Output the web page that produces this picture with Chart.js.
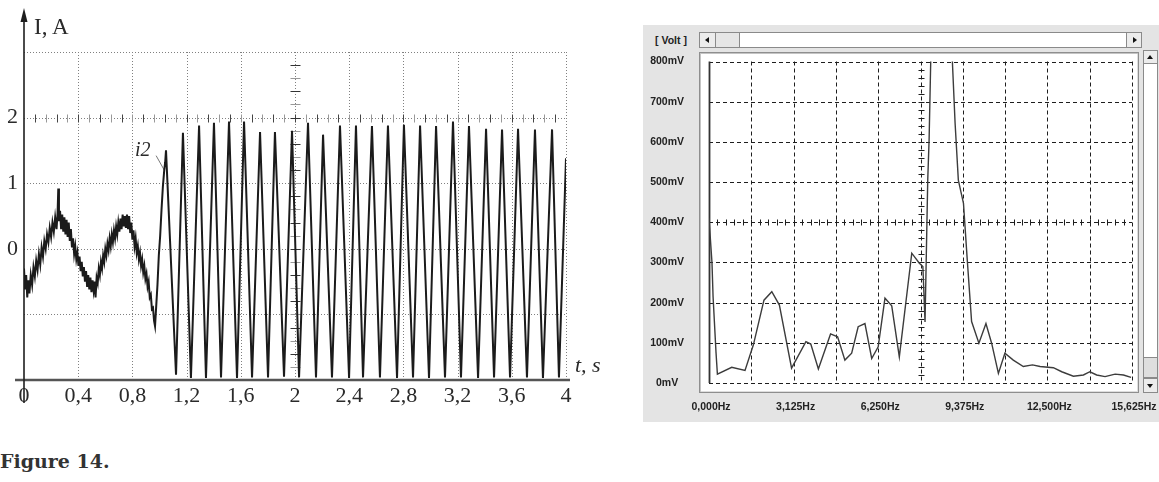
<!DOCTYPE html>
<html>
<head>
<meta charset="utf-8">
<script src="https://cdn.jsdelivr.net/npm/chart.js@4.4.1/dist/chart.umd.min.js"></script>
<style>
body { margin: 0; background: #fff; width: 1159px; height: 482px; position: relative; overflow: hidden; }
.abs { position: absolute; }
.serif { font-family: 'Liberation Serif', 'Times New Roman', serif; color: #2a2a2a; line-height: 1; white-space: nowrap; }
.ui { font-family: 'Liberation Sans', Arial, sans-serif; font-weight: bold; font-size: 10.5px; color: #222; line-height: 1; }
#panel { left: 643px; top: 25px; width: 516px; height: 397px; background: #e4e4e4; }
#frame { left: 699px; top: 52px; width: 438px; height: 339px; background: #fff; border: 1px solid #8e8e8e; box-shadow: inset 1px 1px 0 #c4c4c4, inset -1px -1px 0 #dedede; }
.bar { background: #fff; border: 1px solid #8a8a8a; box-sizing: border-box; }
.btn { background: #ececec; border: 1px solid #8a8a8a; box-sizing: border-box; }
.tri { position: absolute; width: 0; height: 0; border-style: solid; }
#caption { left: 0; top: 450px; font-family: 'DejaVu Serif', serif; font-weight: bold; font-size: 19px; color: #333; }
</style>
</head>
<body>
<div id="panel" class="abs"></div>
<span class="abs ui" style="left:655px;top:35px">[ Volt ]</span>
<div class="abs bar" style="left:699px;top:32px;width:443px;height:16px"></div>
<div class="abs btn" style="left:699px;top:32px;width:17px;height:16px"><div class="tri" style="left:5px;top:4px;border-width:3px 4px 3px 0;border-color:transparent #111 transparent transparent"></div></div>
<div class="abs btn" style="left:715px;top:32px;width:25px;height:16px;background:#e6e6e6"></div>
<div class="abs btn" style="left:1126px;top:32px;width:16px;height:16px"><div class="tri" style="left:6px;top:4px;border-width:3px 0 3px 4px;border-color:transparent transparent transparent #111"></div></div>
<div id="frame" class="abs"></div>
<div class="abs bar" style="left:1143px;top:50px;width:15px;height:343px"></div>
<div class="abs btn" style="left:1143px;top:50px;width:15px;height:14px"><div class="tri" style="left:3px;top:4px;border-width:0 3.5px 4px 3.5px;border-color:transparent transparent #111 transparent"></div></div>
<div class="abs btn" style="left:1143px;top:357px;width:15px;height:21px;background:#dedede"></div>
<div class="abs btn" style="left:1143px;top:378px;width:15px;height:15px"><div class="tri" style="left:3px;top:5px;border-width:4px 3.5px 0 3.5px;border-color:#111 transparent transparent transparent"></div></div>

<canvas id="scope" class="abs" width="610" height="420" style="left:0;top:0"></canvas>
<canvas id="spectrum" class="abs" width="515" height="397" style="left:644px;top:25px"></canvas>

<span class="abs serif" style="left:34px;top:15px;font-size:23px">I, A</span>
<span class="abs serif" style="left:575px;top:354px;font-size:22px;font-style:italic">t, s</span>
<span class="abs serif" style="left:135px;top:139px;font-size:20px;font-style:italic">i2</span>
<span id="caption" class="abs">Figure 14.</span>

<script>
// left plot: current i2 over time
const timeTicks = [0, 0.4, 0.8, 1.2, 1.6, 2, 2.4, 2.8, 3.2, 3.6, 4];
const timeLabels = ['0', '0,4', '0,8', '1,2', '1,6', '2', '2,4', '2,8', '3,2', '3,6', '4'];
const currentTicks = [0, 1, 2];
const currentLabels = ['0', '1', '2'];

const timeS = [
    0.000, 0.008, 0.016, 0.024, 0.032, 0.040, 0.050, 0.060, 0.070, 0.080,
    0.090, 0.100, 0.110, 0.120, 0.130, 0.140, 0.150, 0.160, 0.170, 0.180,
    0.190, 0.200, 0.210, 0.220, 0.230, 0.240, 0.248, 0.253, 0.258, 0.266,
    0.274, 0.282, 0.290, 0.298, 0.306, 0.314, 0.322, 0.330, 0.338, 0.346,
    0.354, 0.362, 0.370, 0.378, 0.386, 0.394, 0.402, 0.410, 0.418, 0.426,
    0.434, 0.442, 0.450, 0.458, 0.466, 0.474, 0.482, 0.490, 0.498, 0.506,
    0.514, 0.522, 0.528, 0.536, 0.544, 0.552, 0.560, 0.568, 0.576, 0.584,
    0.592, 0.600, 0.608, 0.616, 0.624, 0.632, 0.640, 0.648, 0.656, 0.664,
    0.672, 0.680, 0.688, 0.696, 0.704, 0.712, 0.720, 0.728, 0.736, 0.744,
    0.752, 0.760, 0.768, 0.776, 0.784, 0.792, 0.800, 0.808, 0.816, 0.824,
    0.832, 0.840, 0.848, 0.856, 0.864, 0.872, 0.880, 0.888, 0.896, 0.904,
    0.912, 0.920, 0.928, 0.936, 0.944, 0.952, 0.960, 0.967, 0.975, 0.985,
    0.995, 1.005, 1.015, 1.025, 1.035, 1.042,
    1.048, 1.122, 1.173, 1.232, 1.292, 1.343, 1.402, 1.454, 1.513, 1.572,
    1.624, 1.683, 1.742, 1.801, 1.852, 1.919, 1.978, 2.030, 2.096, 2.155,
    2.207, 2.273, 2.332, 2.399, 2.450, 2.502, 2.568, 2.627, 2.686, 2.753,
    2.804, 2.871, 2.923, 2.989, 3.041, 3.107, 3.166, 3.225, 3.284, 3.351,
    3.410, 3.469, 3.528, 3.587, 3.646, 3.712, 3.771, 3.830, 3.897, 3.948,
    4.000
];
const currentA = [
    -0.30, -0.62, -0.40, -0.74, -0.48, -0.68, -0.40, -0.55, -0.28, -0.42,
    -0.18, -0.32, -0.08, -0.24, 0.02, -0.12, 0.12, 0.00, 0.22, 0.10,
    0.32, 0.18, 0.40, 0.26, 0.48, 0.30, 0.55, 0.92, 0.42, 0.58,
    0.30, 0.52, 0.26, 0.48, 0.22, 0.44, 0.18, 0.40, 0.12, 0.30,
    0.02, 0.16, -0.08, 0.04, -0.16, -0.06, -0.26, -0.12, -0.34, -0.20,
    -0.42, -0.28, -0.50, -0.34, -0.58, -0.40, -0.62, -0.44, -0.66, -0.48,
    -0.64, -0.50, -0.74, -0.44, -0.52, -0.30, -0.40, -0.20, -0.30, -0.10,
    -0.20, 0.00, -0.10, 0.08, -0.02, 0.16, 0.04, 0.22, 0.10, 0.28,
    0.16, 0.34, 0.22, 0.40, 0.26, 0.46, 0.30, 0.52, 0.34, 0.50,
    0.32, 0.52, 0.30, 0.50, 0.24, 0.40, 0.14, 0.28, 0.04, 0.16,
    -0.06, 0.04, -0.16, -0.06, -0.26, -0.16, -0.36, -0.26, -0.46, -0.38,
    -0.58, -0.50, -0.74, -0.70, -0.92, -0.90, -1.10, -1.18, -0.90, -0.55,
    -0.10, 0.20, 0.60, 0.95, 1.20, 1.32,
    1.50, -1.92, 1.77, -1.97, 1.88, -1.97, 1.92, -1.96, 1.94, -1.97,
    1.94, -1.96, 1.78, -1.96, 1.78, -1.95, 1.80, -1.96, 1.92, -1.96,
    1.74, -1.96, 1.88, -1.97, 1.88, -1.96, 1.87, -1.96, 1.88, -1.97,
    1.89, -1.96, 1.88, -1.97, 1.87, -1.96, 1.94, -1.96, 1.87, -1.97,
    1.83, -1.96, 1.82, -1.96, 1.83, -1.96, 1.82, -1.97, 1.82, -1.96,
    1.38
];

// right plot: amplitude spectrum
const freqTicks = [0, 3.125, 6.25, 9.375, 12.5, 15.625];
const freqLabels = ['0,000Hz', '3,125Hz', '6,250Hz', '9,375Hz', '12,500Hz', '15,625Hz'];
const voltTicks = [0, 100, 200, 300, 400, 500, 600, 700, 800];
const voltLabels = ['0mV', '100mV', '200mV', '300mV', '400mV', '500mV', '600mV', '700mV', '800mV'];

const freqHz = [
    0, 0.11, 0.15, 0.26, 0.31, 0.84, 1.33, 1.64, 2.03, 2.32,
    2.60, 3.05, 3.58, 3.76, 4.04, 4.49, 4.75, 5.02, 5.27, 5.51,
    5.76, 6.01, 6.25, 6.50, 6.75, 7.03, 7.49, 7.77, 7.90, 7.98,
    8.08, 8.13, 8.19, 8.50, 8.99, 9.09, 9.21, 9.40, 9.54, 9.70,
    9.97, 10.23, 10.44, 10.69, 10.93, 11.24, 11.61, 11.95, 12.23, 12.72,
    13.03, 13.46, 13.83, 14.07, 14.32, 14.63, 15.00, 15.31, 15.59
];
const ampMv = [
    410, 300, 215, 75, 22, 39, 31, 95, 206, 227,
    194, 37, 103, 97, 35, 122, 115, 57, 74, 140,
    148, 61, 90, 211, 192, 65, 323, 298, 290, 152,
    505, 605, 800, 1100, 800, 647, 505, 447, 306, 153,
    99, 148, 99, 24, 74, 57, 41, 45, 41, 38,
    28, 17, 20, 28, 20, 16, 22, 20, 14
];

function line(ctx, x1, y1, x2, y2) {
    ctx.beginPath();
    ctx.moveTo(x1, y1);
    ctx.lineTo(x2, y2);
    ctx.stroke();
}

const scopeGrid = {
    id: 'scopeGrid',
    beforeDatasetsDraw(chart) {
        const {ctx, scales: {x, y}} = chart;
        const left = x.getPixelForValue(0), right = x.getPixelForValue(4);
        const top = y.getPixelForValue(3), bottom = y.getPixelForValue(-2);
        ctx.save();
        ctx.lineWidth = 1;
        ctx.strokeStyle = '#808080';
        ctx.setLineDash([1, 2]);
        [3, 2, 1, 0, -1].forEach(v => {
            const py = Math.round(y.getPixelForValue(v)) + 0.5;
            line(ctx, left, py, right, py);
        });
        timeTicks.slice(1).forEach(t => {
            const px = Math.round(x.getPixelForValue(t)) + 0.5;
            line(ctx, px, top, px, bottom);
        });
        ctx.setLineDash([]);
        // small ticks along the 2 A line
        const y2 = Math.round(y.getPixelForValue(2)) + 0.5;
        for (let i = 1; i < 50; i++) {
            const px = Math.round(x.getPixelForValue(i * 0.08)) + 0.5;
            ctx.strokeStyle = i % 2 ? '#444' : '#999';
            line(ctx, px, y2 - 4, px, y2 + 4);
        }
        // small ticks along the t = 2 s line
        const xc = Math.round(x.getPixelForValue(2)) + 0.5;
        for (let i = -9; i <= 14; i++) {
            const py = Math.round(y.getPixelForValue(i * 0.2)) + 0.5;
            ctx.strokeStyle = i % 2 ? '#999' : '#333';
            line(ctx, xc - 5, py, xc + 5, py);
        }
        // axes
        const x0 = x.getPixelForValue(0);
        ctx.strokeStyle = '#555';
        ctx.lineWidth = 2.5;
        line(ctx, x0 - 9, bottom, right + 4, bottom);
        ctx.strokeStyle = '#1e1e1e';
        ctx.lineWidth = 1.6;
        line(ctx, x0, 18, x0, bottom + 23);
        ctx.fillStyle = '#1e1e1e';
        ctx.beginPath();
        ctx.moveTo(x0, 8);
        ctx.lineTo(x0 - 3.5, 22);
        ctx.lineTo(x0 + 3.5, 22);
        ctx.closePath();
        ctx.fill();
        // leader line for the i2 label
        ctx.strokeStyle = '#777';
        ctx.lineWidth = 1;
        line(ctx, x.getPixelForValue(0.975), y.getPixelForValue(1.42), x.getPixelForValue(1.035), y.getPixelForValue(1.2));
        ctx.restore();
    }
};

new Chart(document.getElementById('scope'), {
    type: 'line',
    data: {
        datasets: [{
            data: timeS.map((t, i) => ({x: t, y: currentA[i]})),
            borderColor: '#1b1b1b',
            borderWidth: 2,
            pointRadius: 0,
            tension: 0
        }]
    },
    options: {
        responsive: false,
        animation: false,
        events: [],
        layout: {padding: {top: 52, right: 44, left: 0, bottom: 0}},
        plugins: {legend: {display: false}, tooltip: {enabled: false}},
        scales: {
            x: {
                type: 'linear', min: 0, max: 4,
                afterFit: s => { s.height = 40; s.paddingLeft = 0; s.paddingRight = 0; },
                afterBuildTicks: s => { s.ticks = timeTicks.map(v => ({value: v})); },
                grid: {display: false, drawTicks: false},
                border: {display: false},
                ticks: {
                    callback: (v, i) => timeLabels[i],
                    autoSkip: false, maxRotation: 0, padding: 3,
                    color: '#2a2a2a',
                    font: {family: "'Liberation Serif', serif", size: 22}
                }
            },
            y: {
                type: 'linear', min: -2, max: 3,
                afterFit: s => { s.width = 24; },
                afterBuildTicks: s => { s.ticks = currentTicks.map(v => ({value: v})); },
                grid: {display: false, drawTicks: false},
                border: {display: false},
                ticks: {
                    callback: (v, i) => currentLabels[i],
                    padding: 6,
                    color: '#2a2a2a',
                    font: {family: "'Liberation Serif', serif", size: 22}
                }
            }
        }
    },
    plugins: [scopeGrid]
});

const screenGrid = {
    id: 'screenGrid',
    beforeDatasetsDraw(chart) {
        const {ctx, chartArea: a, scales: {x, y}} = chart;
        const div = 15.625 / 10;
        ctx.save();
        ctx.lineWidth = 1;
        ctx.strokeStyle = '#1e1e1e';
        ctx.setLineDash([4, 3]);
        for (let i = 1; i <= 10; i++) {
            const px = Math.round(x.getPixelForValue(i * div)) + 0.5;
            line(ctx, px, a.top, px, a.bottom);
        }
        voltTicks.forEach(v => {
            const py = Math.round(y.getPixelForValue(v)) + 0.5;
            line(ctx, a.left, py, a.right, py);
        });
        ctx.setLineDash([]);
        // centre cross with fine ticks
        const yc = Math.round(y.getPixelForValue(400)) + 0.5;
        for (let i = 1; i < 50; i++) {
            const px = Math.round(x.getPixelForValue(i * div / 5)) + 0.5;
            line(ctx, px, yc - 3, px, yc + 3);
        }
        const xc = Math.round(x.getPixelForValue(5 * div)) + 0.5;
        for (let i = 1; i < 40; i++) {
            const py = Math.round(y.getPixelForValue(i * 20)) + 0.5;
            line(ctx, xc - 3, py, xc + 3, py);
        }
        ctx.lineWidth = 1.8;
        ctx.strokeStyle = '#333';
        line(ctx, a.left + 0.5, a.top, a.left + 0.5, a.bottom);
        ctx.restore();
    }
};

new Chart(document.getElementById('spectrum'), {
    type: 'line',
    data: {
        datasets: [{
            data: freqHz.map((f, i) => ({x: f, y: ampMv[i]})),
            borderColor: '#3c3c3c',
            borderWidth: 1.4,
            pointRadius: 0,
            tension: 0
        }]
    },
    options: {
        responsive: false,
        animation: false,
        events: [],
        layout: {padding: {top: 36.5, right: 27, left: 0, bottom: 0}},
        plugins: {legend: {display: false}, tooltip: {enabled: false}},
        scales: {
            x: {
                type: 'linear', min: 0, max: 15.625,
                afterFit: s => { s.height = 39; s.paddingLeft = 0; s.paddingRight = 0; },
                afterBuildTicks: s => { s.ticks = freqTicks.map(v => ({value: v})); },
                grid: {display: false, drawTicks: false},
                border: {display: false},
                ticks: {
                    callback: (v, i) => freqLabels[i],
                    autoSkip: false, maxRotation: 0, padding: 18, labelOffset: 2,
                    color: '#222',
                    font: {family: "'Liberation Sans', Arial, sans-serif", size: 10.5, weight: 'bold'}
                }
            },
            y: {
                type: 'linear', min: 0, max: 800,
                afterFit: s => { s.width = 65; },
                afterBuildTicks: s => { s.ticks = voltTicks.map(v => ({value: v})); },
                grid: {display: false, drawTicks: false},
                border: {display: false},
                ticks: {
                    callback: (v, i) => voltLabels[i],
                    crossAlign: 'center', padding: 25,
                    color: '#222',
                    font: {family: "'Liberation Sans', Arial, sans-serif", size: 10.5, weight: 'bold'}
                }
            }
        }
    },
    plugins: [screenGrid]
});
</script>
</body>
</html>
